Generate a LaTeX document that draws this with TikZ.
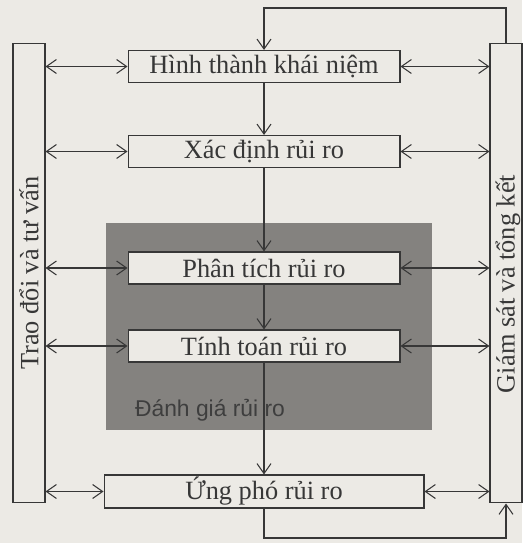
\documentclass[tikz,border=0pt]{standalone}
\usepackage{fontspec}
\setmainfont{Liberation Serif}
\newfontfamily\labelsans{Liberation Sans}
\usepackage{xcolor}
\usetikzlibrary{positioning,arrows.meta,calc}

\definecolor{paper}{RGB}{236,234,229}
\definecolor{inkline}{RGB}{55,55,55}
\definecolor{shade}{RGB}{132,130,127}
\definecolor{shadetext}{RGB}{62,62,62}

\begin{document}
\begin{tikzpicture}[
  x=0.02cm, y=-0.02cm,
  every node/.style={font=\fontsize{15}{17}\selectfont, text=inkline},
  stepbox/.style={rectangle, draw=inkline, line width=0.6pt, fill=paper,
                  minimum width=5.44cm, minimum height=0.64cm,
                  inner sep=0pt, align=center},
  sidebox/.style={rectangle, draw=inkline, line width=0.6pt, fill=paper,
                  minimum width=0.64cm, minimum height=9.2cm, inner sep=0pt},
  flowarrow/.style={-{Straight Barb[length=2mm,width=2.8mm]}, line width=0.6pt, draw=inkline},
  linkarrow/.style={{Straight Barb[length=2mm,width=2.8mm]}-{Straight Barb[length=2mm,width=2.8mm]},
                    line width=0.6pt, draw=inkline}
]
% page
\fill[paper] (0,0) rectangle (522,543);
\useasboundingbox (0,0) rectangle (522,543);

% shaded evaluation area
\node[fill=shade, minimum width=6.52cm, minimum height=4.14cm, inner sep=0pt] (eval) at (269,326.5) {};
\node[font=\labelsans\fontsize{13}{15}\selectfont, text=shadetext] (evallbl) at (210,410) {Đánh giá rủi ro};

% side bars
\node[sidebox] (trao) at (29,273) {};
\node[rotate=90] (traolbl) at (29,273) {Trao đổi và tư vấn};
\node[sidebox] (giam) at (506,273) {};
\node[rotate=90] (giamlbl) at (508,284) {Giám sát và tổng kết};

% process steps
\node[stepbox]                          (hinh) at (264,66.5) {Hình thành khái niệm};
\node[stepbox]                          (xac)  at (264,151.5) {Xác định rủi ro};
\node[stepbox]                          (phan) at (264,268) {Phân tích rủi ro};
\node[stepbox]                          (tinh) at (264,346) {Tính toán rủi ro};
\node[stepbox, minimum width=6.4cm, minimum height=0.66cm] (ung) at (264,491.5) {Ứng phó rủi ro};

\coordinate (topy) at (0,8);
\coordinate (boty) at (0,538);

\draw[flowarrow] (hinh) -- (xac);
\draw[flowarrow] (xac)  -- (phan);
\draw[flowarrow] (phan) -- (tinh);
\draw[flowarrow] (tinh) -- (ung);

\foreach \s in {hinh,xac,phan,tinh,ung}{
  \draw[linkarrow] (trao.east |- \s.west) -- (\s.west);
  \draw[linkarrow] (\s.east) -- (giam.west |- \s.east);
}

% feedback loops
\draw[flowarrow] (giam.north) -- (giam.north |- topy) -| (hinh.north);
\draw[flowarrow] (ung.south) -- (ung.south |- boty) -| (giam.south);

\end{tikzpicture}
\end{document}
